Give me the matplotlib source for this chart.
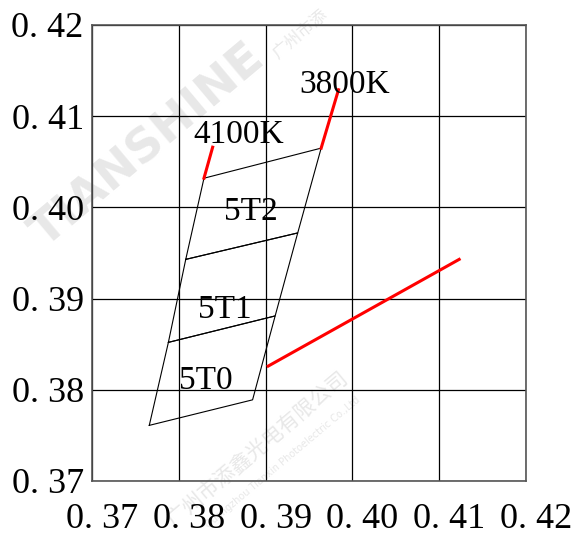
import matplotlib
matplotlib.use("Agg")
import matplotlib.pyplot as plt
import matplotlib.transforms as mtransforms

# chromaticity bin corners (x, y)
bin_left_x = [0.3766, 0.3788, 0.3808, 0.3829]
bin_left_y = [0.3761, 0.3852, 0.3943, 0.4032]
bin_right_x = [0.3885, 0.3911, 0.3937, 0.3964]
bin_right_y = [0.3789, 0.3881, 0.3972, 0.4065]
bin_names = ["5T0", "5T1", "5T2"]
bin_label_x = [0.3831, 0.3853, 0.3883]
bin_label_y = [0.3801, 0.3879, 0.3986]

# CCT lines
cct_names = ["4100K", "3800K"]
cct_x = [[0.3829, 0.3839], [0.3964, 0.3984]]
cct_y = [[0.4032, 0.4066], [0.4065, 0.4129]]
cct_label_x = [0.3869, 0.3991]
cct_label_y = [0.4071, 0.4125]

# black body locus segment
bbl_x = [0.3903, 0.4123]
bbl_y = [0.3826, 0.3943]

ticks = [0.37, 0.38, 0.39, 0.40, 0.41, 0.42]
tick_labels = ["0. 37", "0. 38", "0. 39", "0. 40", "0. 41", "0. 42"]

fig = plt.figure(figsize=(5.79, 5.36), dpi=100)
ax = fig.add_axes([92 / 579, 55 / 536, 434 / 579, 456 / 536])
ax.set_zorder(1)
ax.patch.set_alpha(0)

# faint watermark (behind everything)
wm = "#e8e8e8"
fig.text(148 / 579, 1 - 146 / 536, "TIANSHINE", fontsize=34, fontweight="bold",
         color=wm, rotation=40, ha="center", va="center", zorder=0,
         family="DejaVu Sans")
fig.text(258 / 579, 1 - 450 / 536, "广州市添鑫光电有限公司", fontsize=15,
         color=wm, rotation=40, ha="center", va="center", zorder=0,
         family=["Noto Sans CJK SC", "DejaVu Sans"])
fig.text(283 / 579, 1 - 462 / 536, "Guangzhou Tianxin Photoelectric Co.,Ltd",
         fontsize=7, color=wm, rotation=40, ha="center", va="center", zorder=0,
         family="DejaVu Sans")
fig.text(300 / 579, 1 - 34 / 536, "广州市添", fontsize=12,
         color=wm, rotation=40, ha="center", va="center", zorder=0,
         family=["Noto Sans CJK SC", "DejaVu Sans"])

# bin outlines
for i in range(len(bin_names)):
    xs = [bin_left_x[i], bin_right_x[i], bin_right_x[i + 1], bin_left_x[i + 1], bin_left_x[i]]
    ys = [bin_left_y[i], bin_right_y[i], bin_right_y[i + 1], bin_left_y[i + 1], bin_left_y[i]]
    ax.plot(xs, ys, color="black", lw=0.8)
    ax.text(bin_label_x[i], bin_label_y[i], bin_names[i], fontsize=24,
            family="Liberation Serif", ha="center", va="baseline")

for i in range(len(cct_names)):
    ax.plot(cct_x[i], cct_y[i], color="red", lw=2.2)
    ax.text(cct_label_x[i], cct_label_y[i], cct_names[i], fontsize=24,
            family="Liberation Serif", ha="center", va="baseline")

ax.plot(bbl_x, bbl_y, color="red", lw=2.2)

ax.set_xlim(0.37, 0.42)
ax.set_ylim(0.37, 0.42)
ax.set_xticks(ticks)
ax.set_yticks(ticks)
ax.set_xticklabels(tick_labels, fontsize=26, family="Liberation Serif")
ax.set_yticklabels(tick_labels, fontsize=26, family="Liberation Serif")
ax.tick_params(axis="x", length=0, pad=16)
ax.tick_params(axis="y", length=0, pad=6)
ax.grid(True, color="black", lw=0.9)
for s in ax.spines.values():
    s.set_color("#555555")
    s.set_linewidth(1.2)

shift = mtransforms.ScaledTranslation(10 / 100, 0, fig.dpi_scale_trans)
for lab in ax.get_xticklabels():
    lab.set_transform(lab.get_transform() + shift)

fig.savefig("out.png", dpi=100)
